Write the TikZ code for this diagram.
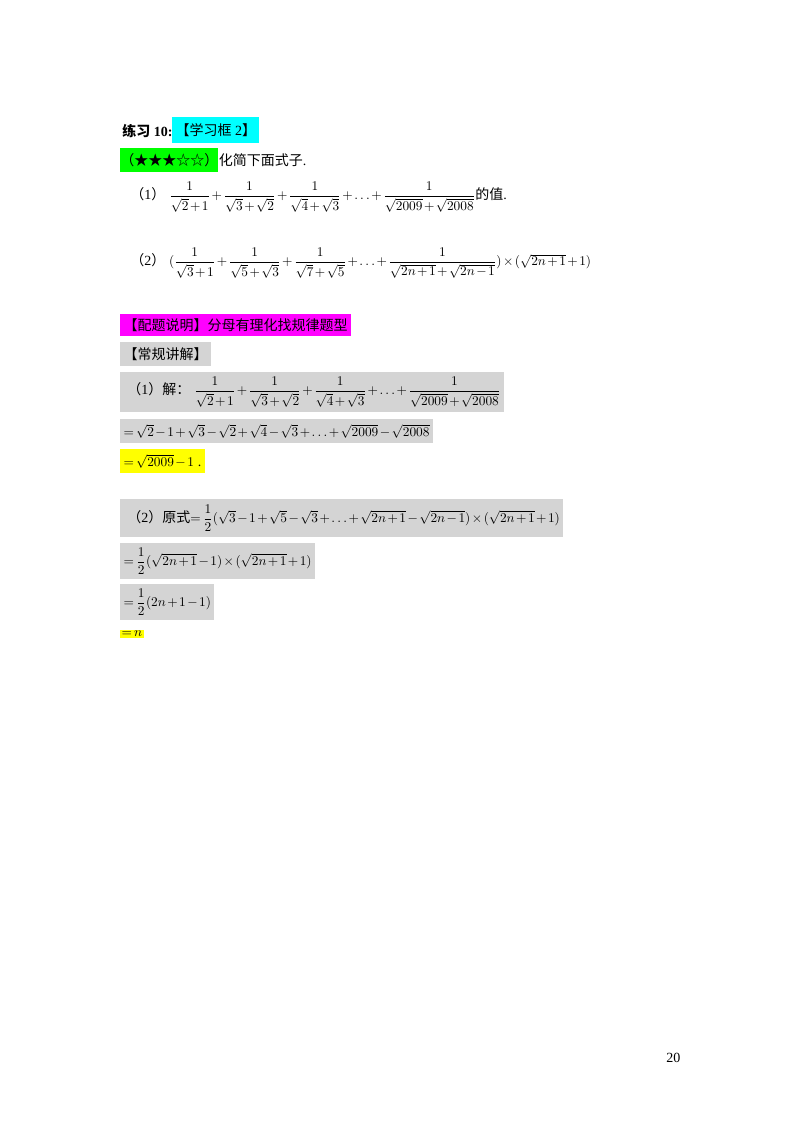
\documentclass[tikz,border=0pt]{standalone}
\usepackage{amsmath}
\usepackage{fontspec}
\setmainfont{Liberation Serif}
\newfontfamily\cjk{Noto Sans CJK SC}
\definecolor{hlgray}{RGB}{212,212,212}
\definecolor{hlcyan}{RGB}{0,255,255}
\definecolor{hlgreen}{RGB}{0,255,0}
\definecolor{hlmag}{RGB}{255,0,255}
\definecolor{hlyel}{RGB}{255,255,0}
\newcommand{\fr}[2]{\dfrac{#1}{#2}}
\newcommand{\mm}[1]{{\fontsize{9.6}{11}\selectfont$#1$}}
\medmuskip=2mu plus 1mu \thickmuskip=3mu plus 2mu
\begin{document}
\begin{tikzpicture}[x=0.75pt,y=-0.75pt,
  txt/.style={anchor=west,inner sep=1.5pt,font=\fontsize{10.5}{12}\selectfont},
  hl/.style={txt,fill=#1,inner sep=2.5pt}]
\useasboundingbox (0,0) rectangle (800,1132);
\node[txt] (t1) at (120,131) {\textbf{{\cjk\bfseries 练习} 10:}};
\node[hl=hlcyan,minimum height=19.5pt] (t2) at (172,130) {{\cjk 【学习框} 2{\cjk 】}};
\node[hl=hlgreen,minimum height=18pt,inner xsep=0pt] (t3) at (120,160) {{\cjk （★★★☆☆）}};
\node[txt,anchor=west,inner xsep=0pt] (t4) at (t3.east) {{\cjk 化简下面式子}.};
\node[txt] (p1) at (128,197) {{\cjk （}1{\cjk ）}\;\mm{\fr{1}{\sqrt2+1}+\fr{1}{\sqrt3+\sqrt2}+\fr{1}{\sqrt4+\sqrt3}+\ldots+\fr{1}{\sqrt{2009}+\sqrt{2008}}}{\cjk 的值}.};
\node[txt] (p2) at (128,263) {{\cjk （}2{\cjk ）}\;\mm{(\fr{1}{\sqrt3+1}+\fr{1}{\sqrt5+\sqrt3}+\fr{1}{\sqrt7+\sqrt5}+\ldots+\fr{1}{\sqrt{2n+1}+\sqrt{2n-1}})\times(\sqrt{2n+1}+1)}};
\node[hl=hlmag,minimum height=17pt] (s1) at (120,325) {{\cjk 【配题说明】分母有理化找规律题型}};
\node[hl=hlgray,minimum height=18pt] (s2) at (120,354) {{\cjk 【常规讲解】}};
\node[hl=hlgray,minimum height=30pt] (s3) at (120,392) {\;{\cjk （}1{\cjk ）解：}\;\mm{\fr{1}{\sqrt2+1}+\fr{1}{\sqrt3+\sqrt2}+\fr{1}{\sqrt4+\sqrt3}+\ldots+\fr{1}{\sqrt{2009}+\sqrt{2008}}}};
\node[hl=hlgray,minimum height=18pt] (s4) at (120,431) {\mm{=\sqrt2-1+\sqrt3-\sqrt2+\sqrt4-\sqrt3+\ldots+\sqrt{2009}-\sqrt{2008}}};
\node[hl=hlyel,minimum height=18pt] (s5) at (120,461) {\mm{=\sqrt{2009}-1}\;.};
\node[hl=hlgray,minimum height=28pt] (s6) at (120,518) {\;{\cjk （}2{\cjk ）原式}\mm{=\fr12(\sqrt3-1+\sqrt5-\sqrt3+\ldots+\sqrt{2n+1}-\sqrt{2n-1})\times(\sqrt{2n+1}+1)}};
\node[hl=hlgray,minimum height=27pt] (s7) at (120,561) {\mm{=\fr12(\sqrt{2n+1}-1)\times(\sqrt{2n+1}+1)}};
\node[hl=hlgray,minimum height=27pt] (s8) at (120,602) {\mm{=\fr12(2n+1-1)}};
\node[hl=hlyel,inner sep=1pt] (s9) at (120,634) {\mm{=n}};
\node[txt] (pg) at (664,1058) {20};
\end{tikzpicture}
\end{document}
